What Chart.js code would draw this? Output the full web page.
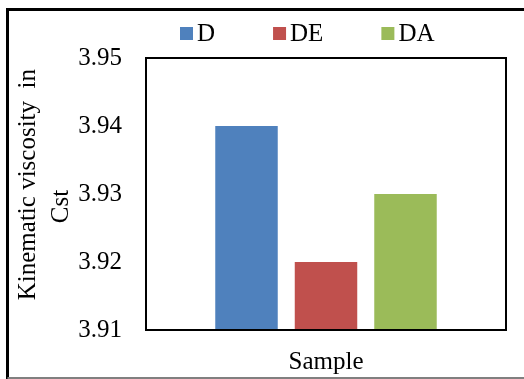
<!DOCTYPE html>
<html>
<head>
<meta charset="utf-8">
<style>
  html, body { margin: 0; padding: 0; background: #fff; }
  #wrap { width: 524px; height: 379px; }
</style>
<script src="https://cdn.jsdelivr.net/npm/chart.js@4/dist/chart.umd.min.js"></script>
</head>
<body>
<div id="wrap"><canvas id="c" width="524" height="379"></canvas></div>
<script>
// Kinematic viscosity of the three samples
const categories = [''];
const seriesNames = ['D', 'DE', 'DA'];
const seriesColors = ['#4F81BD', '#C0504D', '#9BBB59'];
const valuesD = [3.94];
const valuesDE = [3.92];
const valuesDA = [3.93];
const yTicks = [3.91, 3.92, 3.93, 3.94, 3.95];

const FONT = '"Liberation Serif", "Times New Roman", serif';

// Outer frame of the figure and the box around the plot area
const framePlugin = {
  id: 'frame',
  beforeDraw(chart) {
    const ctx = chart.ctx;
    ctx.save();
    ctx.fillStyle = '#fff';
    ctx.fillRect(0, 0, chart.width, chart.height);
    ctx.strokeStyle = '#000';
    ctx.lineWidth = 3;
    ctx.beginPath();
    ctx.moveTo(7.5, chart.height);
    ctx.lineTo(7.5, 9.5);
    ctx.lineTo(chart.width, 9.5);
    ctx.stroke();
    ctx.strokeStyle = '#808080';
    ctx.lineWidth = 2;
    ctx.beginPath();
    ctx.moveTo(7.5, 378);
    ctx.lineTo(chart.width, 378);
    ctx.stroke();
    ctx.restore();
  },
  afterDatasetsDraw(chart) {
    const a = chart.chartArea;
    const ctx = chart.ctx;
    ctx.save();
    ctx.strokeStyle = '#000';
    ctx.lineWidth = 2;
    ctx.strokeRect(a.left, a.top, a.right - a.left, a.bottom - a.top);
    ctx.restore();
  }
};

// Legend row: colour square followed by the series name
const legendPlugin = {
  id: 'rowLegend',
  afterDraw(chart) {
    const ctx = chart.ctx;
    ctx.save();
    ctx.font = '25px ' + FONT;
    ctx.textBaseline = 'middle';
    ctx.textAlign = 'left';
    let x = 180;
    const box = 13, y = 27;
    chart.data.datasets.forEach(ds => {
      ctx.fillStyle = ds.backgroundColor;
      ctx.fillRect(x, y, box, box);
      ctx.fillStyle = '#000';
      ctx.fillText(ds.label, x + box + 4, y + box / 2 + 1);
      x += box + 4 + ctx.measureText(ds.label).width + 58;
    });
    ctx.restore();
  }
};

const seriesValues = [valuesD, valuesDE, valuesDA];

new Chart(document.getElementById('c'), {
  type: 'bar',
  data: {
    labels: categories,
    datasets: seriesNames.map((name, i) => ({
      label: name,
      data: seriesValues[i],
      backgroundColor: seriesColors[i],
      borderWidth: 0,
      barPercentage: 0.786,
      categoryPercentage: 0.6625
    }))
  },
  options: {
    responsive: false,
    animation: false,
    devicePixelRatio: 1,
    layout: { padding: { left: 10, top: 58, right: 18, bottom: 0 } },
    plugins: {
      legend: { display: false },
      tooltip: { enabled: false }
    },
    scales: {
      x: {
        grid: { display: false, drawTicks: false },
        border: { display: false },
        ticks: { display: false },
        title: {
          display: true,
          text: 'Sample',
          color: '#000',
          font: { family: FONT, size: 25 },
          padding: { top: 0, bottom: 2 }
        },
        afterFit(scale) { scale.height = 49; }
      },
      y: {
        min: yTicks[0],
        max: yTicks[yTicks.length - 1],
        grid: { display: false, drawTicks: false },
        border: { display: false },
        afterBuildTicks(scale) { scale.ticks = yTicks.map(v => ({ value: v })); },
        ticks: {
          color: '#000',
          padding: 24,
          font: { family: FONT, size: 25 },
          callback: v => Number(v).toFixed(2)
        },
        title: {
          display: true,
          text: ['   Kinematic viscosity  in', 'Cst    '],
          color: '#000',
          font: { family: FONT, size: 25, lineHeight: 1.32 },
          padding: { top: 2, bottom: 0 }
        },
        afterFit(scale) { scale.width = 136; }
      }
    }
  },
  plugins: [framePlugin, legendPlugin]
});
</script>
</body>
</html>
